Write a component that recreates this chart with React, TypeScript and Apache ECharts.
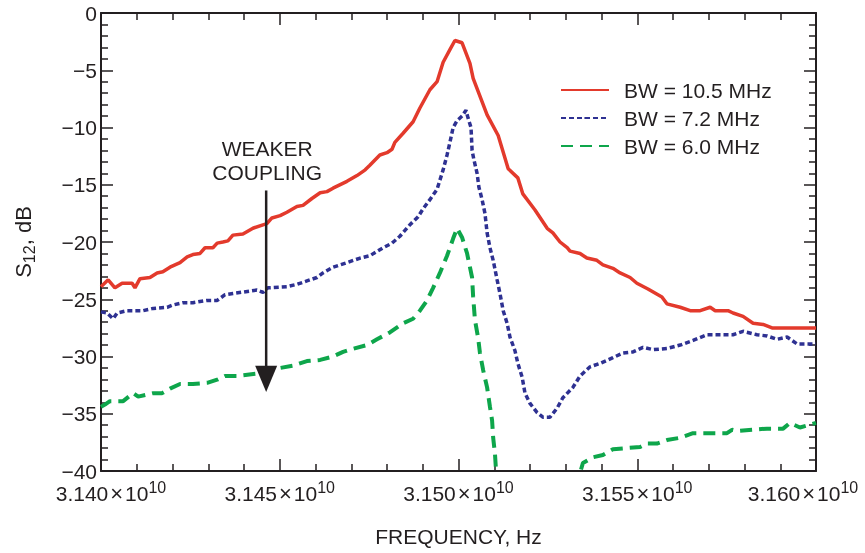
import React, { useEffect, useRef } from "react";
import * as echarts from "echarts";

// Frequencies in MHz, S12 in dB
const redFreqMHz = [
  31400.0, 31402.0, 31403.9, 31405.9, 31408.7, 31409.5, 31410.9, 31413.7, 31415.7, 31417.3,
  31419.3, 31422.1, 31424.1, 31425.7, 31427.7, 31429.1, 31431.3, 31432.5, 31434.1, 31435.5,
  31436.9, 31439.7, 31442.5, 31445.3, 31446.4, 31447.8, 31450.1, 31452.0, 31454.8, 31456.5,
  31459.0, 31461.3, 31463.2, 31464.9, 31468.8, 31471.6, 31473.9, 31475.2, 31478.0, 31480.0,
  31481.4, 31482.2, 31484.5, 31487.3, 31489.2, 31492.0, 31494.0, 31495.7, 31497.6, 31499.0,
  31501.0, 31503.2, 31504.1, 31508.0, 31511.1, 31513.9, 31516.6, 31518.0, 31521.4, 31524.8,
  31526.4, 31528.4, 31530.4, 31531.2, 31534.0, 31535.9, 31538.7, 31540.4, 31543.2, 31545.2,
  31548.0, 31549.9, 31553.0, 31556.9, 31558.3, 31562.0, 31564.8, 31567.6, 31570.4, 31571.8,
  31575.4, 31576.8, 31579.6, 31582.4, 31585.2, 31587.7, 31600.0,
];
const redDb = [
  -23.9, -23.3, -24.0, -23.6, -23.6, -24.0, -23.2, -23.1, -22.7, -22.6,
  -22.2, -21.8, -21.3, -21.1, -21.0, -20.5, -20.5, -20.1, -20.0, -19.9,
  -19.4, -19.3, -18.8, -18.5, -18.4, -17.9, -17.7, -17.4, -16.9, -16.8,
  -16.2, -15.7, -15.6, -15.3, -14.7, -14.2, -13.7, -13.3, -12.4, -12.2,
  -11.9, -11.3, -10.5, -9.5, -8.3, -6.7, -6.0, -4.3, -3.2, -2.4,
  -2.6, -4.4, -5.7, -8.9, -10.7, -13.6, -14.4, -15.8, -17.2, -18.8,
  -19.2, -20.0, -20.5, -20.8, -21.0, -21.4, -21.6, -22.0, -22.3, -22.7,
  -23.1, -23.6, -24.1, -24.8, -25.4, -25.7, -26.0, -26.0, -25.7, -26.0,
  -26.0, -26.2, -26.5, -27.1, -27.2, -27.5, -27.5,
];

const blueFreqMHz = [
  31400.0, 31401.7, 31403.4, 31404.5, 31407.3, 31411.8, 31414.6, 31418.5, 31420.1, 31422.9,
  31425.7, 31429.7, 31432.5, 31434.7, 31436.9, 31443.6, 31445.3, 31446.7, 31452.0, 31454.8,
  31457.6, 31460.4, 31462.1, 31464.9, 31468.8, 31472.5, 31475.2, 31478.9, 31481.4, 31483.6,
  31486.4, 31488.7, 31490.1, 31492.0, 31494.0, 31495.7, 31496.8, 31497.6, 31498.5, 31499.6,
  31501.0, 31502.1, 31502.7, 31503.5, 31503.8, 31504.3, 31505.2, 31505.7, 31506.6, 31507.4,
  31508.0, 31508.8, 31509.7, 31510.8, 31511.6, 31512.5, 31513.6, 31514.4, 31515.8, 31516.6,
  31517.8, 31518.6, 31520.0, 31522.0, 31523.6, 31525.6, 31527.6, 31529.2, 31532.0, 31534.0,
  31536.8, 31539.6, 31543.2, 31546.0, 31548.8, 31551.6, 31554.4, 31558.3, 31562.0, 31565.6,
  31569.5, 31576.8, 31579.6, 31583.5, 31586.3, 31589.1, 31591.9, 31594.7, 31600.0,
];
const blueDb = [
  -26.1, -26.2, -26.7, -26.2, -26.0, -26.0, -25.8, -25.7, -25.5, -25.3,
  -25.3, -25.1, -25.1, -24.6, -24.5, -24.2, -24.4, -24.0, -23.9, -23.7,
  -23.4, -23.1, -22.7, -22.2, -21.8, -21.4, -21.2, -20.5, -20.1, -19.5,
  -18.5, -17.8, -17.1, -16.3, -15.4, -13.7, -12.4, -11.3, -10.0, -9.4,
  -9.0, -8.5, -9.2, -10.0, -12.0, -12.8, -14.0, -15.2, -16.3, -17.5,
  -19.2, -20.5, -21.6, -23.3, -24.5, -26.0, -27.1, -28.3, -29.5, -30.6,
  -31.8, -33.2, -34.1, -34.9, -35.3, -35.3, -34.5, -33.6, -32.7, -31.7,
  -30.9, -30.6, -30.1, -29.7, -29.6, -29.2, -29.4, -29.3, -29.0, -28.6,
  -28.1, -28.1, -27.8, -28.1, -28.2, -28.5, -28.3, -28.9, -28.9,
];

const greenFreqMHz = [
  31400.0, 31401.1, 31402.5, 31406.2, 31409.0, 31410.4, 31414.6, 31417.1, 31419.3, 31422.1,
  31425.7, 31429.7, 31432.7, 31434.7, 31438.0, 31443.6, 31450.1, 31453.7, 31457.6, 31461.3,
  31464.9, 31467.7, 31469.7, 31474.4, 31477.2, 31480.8, 31484.5, 31487.3, 31489.2, 31491.2,
  31492.9, 31494.8, 31496.8, 31498.5, 31499.6, 31501.0, 31502.4, 31503.8, 31504.1, 31504.6,
  31505.5, 31506.0, 31506.9, 31508.0, 31508.8, 31509.4, 31509.7, 31510.2, 31510.5, 31511.6,
  31532.6, 31534.8, 31537.6, 31540.4, 31543.2, 31550.8, 31552.7, 31555.5, 31558.3, 31562.0,
  31565.6, 31575.1, 31576.5, 31577.9, 31586.3, 31590.8, 31592.7, 31595.5, 31600.0,
];
const greenDb = [
  -34.4, -34.2, -33.9, -33.9, -33.2, -33.5, -33.2, -33.2, -32.8, -32.4,
  -32.4, -32.3, -32.0, -31.7, -31.7, -31.5, -31.0, -30.8, -30.4, -30.3,
  -30.0, -29.6, -29.4, -29.0, -28.5, -27.9, -27.1, -26.7, -26.0, -25.1,
  -24.0, -22.7, -21.2, -19.7, -18.8, -19.6, -21.0, -23.1, -24.8, -26.8,
  -28.4, -29.7, -31.2, -32.7, -34.4, -35.6, -37.1, -38.5, -40.0, -41.7,
  -41.7, -39.3, -38.8, -38.6, -38.1, -37.9, -37.6, -37.6, -37.3, -37.1,
  -36.7, -36.7, -36.4, -36.5, -36.3, -36.3, -35.8, -36.2, -35.8,
];

const seriesNames = ["BW = 10.5 MHz", "BW = 7.2 MHz", "BW = 6.0 MHz"];
const yTicks = { min: -40, max: 0, interval: 5 };
const xTicksHz = { min: 3.14e10, max: 3.16e10, interval: 5e7 };

// annotation anchor (data units)
const arrowFreqMHz = 31446.2;
const arrowTopDb = -15.5;
const arrowHeadDb = -30.8;
const arrowTipDb = -33.1;
const annotationLines = ["WEAKER", "COUPLING"];
const annotationDb = [-11.8, -13.9];

const FONT = '"Liberation Sans", Arial, Helvetica, sans-serif';
const FS = 21;
const INK = "#231f20";
const RED = "#e33a2c";
const BLUE = "#2e3192";
const GREEN = "#0ea64b";

export default function App() {
  const ref = useRef<HTMLDivElement>(null);
  useEffect(() => {
    const chart = echarts.init(ref.current!, null, { renderer: "svg" });
    const pts = (f: number[], d: number[]) => f.map((v, i) => [v * 1e6, d[i]]);

    const axisLine = { show: true, onZero: false, lineStyle: { color: INK, width: 2 } };
    const tick = { show: true, inside: true, length: 12, lineStyle: { color: INK, width: 1.5 } };
    const minor = { show: true, splitNumber: 5, length: 7, lineStyle: { color: INK, width: 1.5 } };

    const xBase = {
      type: "value",
      ...xTicksHz,
      axisLine,
      axisTick: tick,
      minorTick: minor,
      splitLine: { show: false },
      minorSplitLine: { show: false },
    };
    const yBase = {
      type: "value",
      ...yTicks,
      axisLine,
      axisTick: tick,
      minorTick: minor,
      splitLine: { show: false },
      minorSplitLine: { show: false },
    };

    const xLabel = (v: number) => {
      const num = (v / 1e10).toFixed(3);
      if (Math.abs(v - xTicksHz.min) < 1) return `{nl|${num}}{x|×}{n|10}{s|10}`;
      if (Math.abs(v - xTicksHz.max) < 1) return `{n|${num}}{x|×}{n|10}{sr|10}`;
      return `{n|${num}}{x|×}{n|10}{s|10}`;
    };

    chart.setOption({
      animation: false,
      textStyle: { fontFamily: FONT, color: INK },
      grid: { left: 101, top: 13, right: 49, bottom: 82, containLabel: false, outerBoundsMode: "none" },
      legend: {
        orient: "vertical",
        left: 560,
        top: 79,
        padding: 0,
        itemWidth: 48,
        itemHeight: 2,
        itemGap: 6,
        data: seriesNames,
        textStyle: { fontFamily: FONT, fontSize: FS, color: INK, lineHeight: 22, padding: [0, 0, 0, 10] },
        selectedMode: false,
      },
      xAxis: [
        {
          ...xBase,
          position: "bottom",
          name: "FREQUENCY, Hz",
          nameLocation: "middle",
          nameGap: 55,
          nameTextStyle: { fontFamily: FONT, fontSize: FS, color: INK },
          axisLabel: {
            show: true,
            margin: 8,
            showMinLabel: true,
            showMaxLabel: true,
            hideOverlap: false,
            color: INK,
            formatter: xLabel,
            rich: {
              n: { fontFamily: FONT, fontSize: FS, color: INK },
              nl: { fontFamily: FONT, fontSize: FS, color: INK, padding: [0, 0, 0, 20] },
              x: { fontFamily: FONT, fontSize: 22, color: INK, padding: [0, 2, 0, 2] },
              s: { fontFamily: FONT, fontSize: 16, color: INK, padding: [0, 0, 12, 0] },
              sr: { fontFamily: FONT, fontSize: 16, color: INK, padding: [0, 26, 12, 0] },
            },
          },
        },
        { ...xBase, position: "top", axisLabel: { show: false } },
      ],
      yAxis: [
        {
          ...yBase,
          position: "left",
          name: "S{sub|12}, dB",
          nameLocation: "middle",
          nameRotate: 90,
          nameGap: 64,
          nameTextStyle: {
            fontFamily: FONT,
            fontSize: 22,
            color: INK,
            rich: { sub: { fontFamily: FONT, fontSize: 16, color: INK, padding: [11, 0, 0, 0] } },
          },
          axisLabel: {
            show: true,
            margin: 4,
            fontFamily: FONT,
            fontSize: FS,
            color: INK,
            formatter: (v: number) => (v === 0 ? "0" : "\u2212" + Math.abs(v)),
          },
        },
        { ...yBase, position: "right", axisLabel: { show: false } },
      ],
      series: [
        {
          name: seriesNames[0],
          type: "line",
          data: pts(redFreqMHz, redDb),
          symbol: "none",
          clip: true,
          lineStyle: { color: RED, width: 3.5 },
          itemStyle: { color: RED },
          z: 3,
        },
        {
          name: seriesNames[1],
          type: "line",
          data: pts(blueFreqMHz, blueDb),
          symbol: "none",
          clip: true,
          lineStyle: { color: BLUE, width: 3.5, type: [5, 3] },
          itemStyle: { color: BLUE },
          z: 3,
        },
        {
          name: seriesNames[2],
          type: "line",
          data: pts(greenFreqMHz, greenDb),
          symbol: "none",
          clip: true,
          lineStyle: { color: GREEN, width: 4, type: [12, 7] },
          itemStyle: { color: GREEN },
          z: 3,
        },
      ],
    });

    const px = (f: number, d: number) =>
      chart.convertToPixel({ xAxisIndex: 0, yAxisIndex: 0 }, [f * 1e6, d]) as number[];
    const top = px(arrowFreqMHz, arrowTopDb);
    const head = px(arrowFreqMHz, arrowHeadDb);
    const tip = px(arrowFreqMHz, arrowTipDb);
    const graphic: any[] = [
      {
        type: "line",
        shape: { x1: top[0], y1: top[1], x2: head[0], y2: head[1] + 2 },
        style: { stroke: INK, lineWidth: 2.5 },
        z: 10,
      },
      {
        type: "polygon",
        shape: { points: [[head[0] - 11, head[1]], [head[0] + 11, head[1]], [tip[0], tip[1]]] },
        style: { fill: INK },
        z: 10,
      },
    ];
    annotationLines.forEach((t, i) => {
      const p = px(arrowFreqMHz, annotationDb[i]);
      graphic.push({
        type: "text",
        x: p[0] + 1,
        y: p[1],
        style: { text: t, fontFamily: FONT, fontSize: FS, fill: INK, align: "center", verticalAlign: "middle" },
        z: 10,
      });
    });
    chart.setOption({ graphic });

    return () => chart.dispose();
  }, []);
  return <div ref={ref} style={{ position: "fixed", left: 0, top: 0, width: 865, height: 553 }} />;
}
